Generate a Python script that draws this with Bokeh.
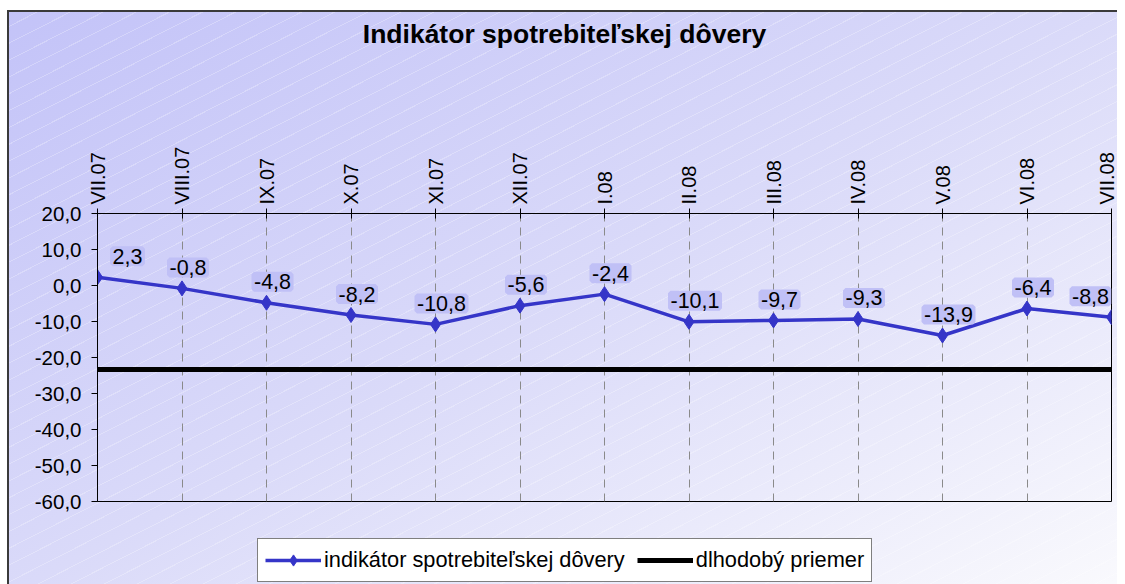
import math
from bokeh.plotting import figure
from bokeh.layouts import column
from bokeh.models import (ColumnDataSource, Range1d, FixedTicker, LabelSet, Label, Legend,
                          LegendItem, CustomJSTickFormatter)
from bokeh.core.properties import value
from bokeh.embed import file_html
from bokeh.resources import INLINE

# ---- data ----
months = ["VII.07", "VIII.07", "IX.07", "X.07", "XI.07", "XII.07", "I.08",
          "II.08", "III.08", "IV.08", "V.08", "VI.08", "VII.08"]
indicator = [2.3, -0.8, -4.8, -8.2, -10.8, -5.6, -2.4, -10.1, -9.7, -9.3, -13.9, -6.4, -8.8]
long_term_avg = -23.3
y_ticks = [20, 10, 0, -10, -20, -30, -40, -50, -60]
title_text = "Indikátor spotrebiteľskej dôvery"
series_name = "indikátor spotrebiteľskej dôvery"
avg_name = "dlhodobý priemer"

FONT = "Liberation Sans"
BLUE = "#3535c8"
BOX = "#c0c0f6"
W = 1117
idx = list(range(len(months)))
n = len(idx)

src = ColumnDataSource(dict(
    x=idx,
    y=indicator,
    avg=[long_term_avg] * n,
    lbl=[f"{v:.1f}".replace(".", ",") for v in indicator],
    xoff=[30 if i == 0 else (-21 if i == n - 1 else 6) for i in idx],
))


def bare(fig):
    fig.border_fill_alpha = 0
    fig.background_fill_alpha = 0
    fig.outline_line_color = None
    return fig


# ---- title strip (frame is aligned with the chart frame by the column) ----
tf = bare(figure(width=W, height=80, output_backend="svg", toolbar_location=None,
                 x_range=Range1d(0, 1), y_range=Range1d(0, 1),
                 x_axis_type=None, y_axis_type=None,
                 min_border_left=0, min_border_right=0, min_border_top=0, min_border_bottom=0))
tf.add_layout(Label(x=467, y=47, x_units="screen", y_units="screen", text=title_text,
                    text_align="center", text_baseline="middle",
                    text_font=FONT, text_font_size="26.5px", text_font_style="bold",
                    text_color="#000000"))

# ---- main chart ----
p = bare(figure(width=W, height=458, output_backend="svg", toolbar_location=None,
                x_range=Range1d(0, n - 1), y_range=Range1d(-60, 20),
                x_axis_location="above", y_axis_location="left",
                min_border_left=97, min_border_right=6, min_border_top=133, min_border_bottom=37))
p.outline_line_color = "#000000"
p.outline_line_width = 1

xa = p.xaxis[0]
xa.ticker = FixedTicker(ticks=idx)
xa.major_label_overrides = {i: m for i, m in zip(idx, months)}
xa.major_label_orientation = math.pi / 2
xa.major_label_text_font = FONT
xa.major_label_text_font_size = "20px"
xa.major_label_text_color = "#000000"
xa.major_label_standoff = 4
xa.major_tick_in = 5
xa.major_tick_out = 5
xa.minor_tick_line_color = None
xa.axis_line_color = "#000000"
xa.major_tick_line_color = "#000000"

ya = p.yaxis[0]
ya.ticker = FixedTicker(ticks=y_ticks)
ya.formatter = CustomJSTickFormatter(code="return tick.toFixed(1).replace('.', ',');")
ya.major_label_text_font = FONT
ya.major_label_text_font_size = "20.5px"
ya.major_label_text_color = "#000000"
ya.major_label_standoff = 10
ya.major_tick_in = 0
ya.major_tick_out = 6
ya.minor_tick_line_color = None
ya.axis_line_color = "#000000"
ya.major_tick_line_color = "#000000"

p.xgrid.ticker = FixedTicker(ticks=idx)
p.xgrid.grid_line_color = "#8a8a8a"
p.xgrid.grid_line_dash = "8 6"
p.xgrid.grid_line_width = 1
p.ygrid.grid_line_color = None

p.line("x", "avg", source=src, line_color="#000000", line_width=5)
p.line("x", "y", source=src, line_color=BLUE, line_width=3.5)
p.scatter("x", "y", source=src, marker="diamond", size=15, fill_color=BLUE, line_color=BLUE)

labels = LabelSet(x="x", y="y", text="lbl", source=src, x_offset="xoff", y_offset=21,
                  text_align="center", text_baseline="middle",
                  text_font=value(FONT), text_font_size=value("21.5px"), text_color="#000000",
                  background_fill_color=BOX, background_fill_alpha=1.0,
                  border_line_color=BOX, border_line_width=5, border_line_alpha=1.0)
p.add_layout(labels)

# ---- legend strip: same series, ranges chosen so that only the legend shows ----
lf = bare(figure(width=W, height=46, output_backend="svg", toolbar_location=None,
                 x_range=Range1d(0, n - 1), y_range=Range1d(100, 101),
                 x_axis_type=None, y_axis_type=None,
                 min_border_left=0, min_border_right=0, min_border_top=0, min_border_bottom=0))
lg_avg = lf.line("x", "avg", source=src, line_color="#000000", line_width=5)
lg_line = lf.line("x", "y", source=src, line_color=BLUE, line_width=3.5)
lg_pts = lf.scatter("x", "y", source=src, marker="diamond", size=15,
                    fill_color=BLUE, line_color=BLUE)
legend = Legend(items=[LegendItem(label=series_name, renderers=[lg_line, lg_pts]),
                       LegendItem(label=avg_name, renderers=[lg_avg])],
                orientation="horizontal", location=(160, 2),
                label_text_font=FONT, label_text_font_size="21.8px", label_text_color="#000000",
                glyph_width=56, glyph_height=28, spacing=12, padding=7, margin=0,
                label_standoff=3, border_line_color="#000000", border_line_width=1,
                background_fill_color="#ffffff", background_fill_alpha=1.0)
lf.add_layout(legend, "center")

page = column(tf, p, lf, spacing=0)
page.styles = {
    "background": (
        "linear-gradient(#3a3a3a, #3a3a3a) 7px 10px / 2px 100% no-repeat, "
        "linear-gradient(#3a3a3a, #3a3a3a) 7px 10px / 100% 2px no-repeat, "
        "repeating-linear-gradient(153deg, rgba(255,255,255,0.25) 0px, "
        "rgba(255,255,255,0.25) 1px, rgba(255,255,255,0) 1px, rgba(255,255,255,0) 15px) "
        "7px 10px / 100% 100% no-repeat, "
        "linear-gradient(to bottom right, #c3c3f8 0%, #dadaf9 50%, #fafafd 100%) "
        "7px 10px / 100% 100% no-repeat, #ffffff"
    ),
}

open("out.html", "w").write(file_html(page, INLINE))
